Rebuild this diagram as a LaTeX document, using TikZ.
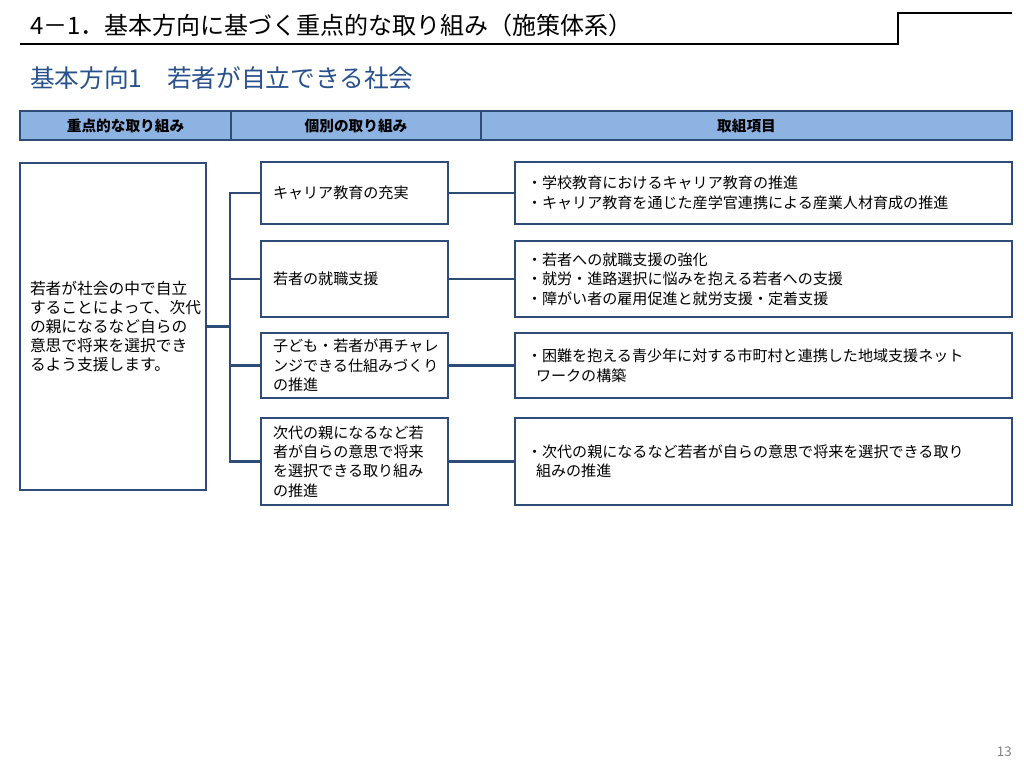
\documentclass[tikz,border=0pt]{standalone}
\usepackage{fontspec}
\setmainfont{Noto Sans CJK JP}
\usetikzlibrary{positioning}
\definecolor{myline}{RGB}{47,75,120}
\definecolor{myhead}{RGB}{141,179,226}
\definecolor{mytitle}{RGB}{40,80,140}

\begin{document}
\begin{tikzpicture}[x=0.75pt, y=-0.75pt,
    box/.style={draw=myline, line width=2pt, outer sep=0pt, fill=white, align=left,
        inner xsep=9pt, font=\fontsize{11.3pt}{14.6pt}\selectfont},
    midbox/.style={box, text width=122.25pt},
    itembox/.style={box, text width=354.75pt},
    headcell/.style={draw=myline, line width=0.8pt, outer sep=0pt, fill=myhead, minimum height=21.75pt,
        inner sep=0pt, font=\fontsize{11pt}{12pt}\selectfont\bfseries},
    link/.style={draw=myline, line width=2pt}]

    \useasboundingbox (0,0) rectangle (1024,768);

    % Title
    \node[anchor=west, inner sep=0pt, font=\fontsize{18pt}{20pt}\selectfont] (title) at (30,25)
        {4－1．基本方向に基づく重点的な取り組み（施策体系）};
    \draw[line width=1.5pt] (20,44) -- (898,44) -- (898,13) -- (1012,13);

    \node[anchor=west, inner sep=0pt, text=mytitle, font=\fontsize{18.5pt}{20pt}\selectfont] (subtitle) at (30,78)
        {基本方向1　若者が自立できる社会};

    % Header
    \node[headcell, minimum width=158.25pt] (h1) at (125.5,125.5) {重点的な取り組み};
    \node[headcell, minimum width=187.5pt, right=0pt of h1] (h2) {個別の取り組み};
    \node[headcell, minimum width=398.25pt, right=0pt of h2] (h3) {取組項目};
    \draw[myline, line width=1.8pt] (h1.south west) -- (h3.south east);

    % Left box
    \node[box, text width=124.5pt, inner xsep=7.5pt, minimum height=245.25pt,
        font=\fontsize{11.8pt}{14.3pt}\selectfont] (goal) at (113,326.5)
        {若者が社会の中で自立\\することによって、次代\\の親になるなど自らの\\意思で将来を選択でき\\るよう支援します。};

    % Middle boxes
    \node[midbox, minimum height=46.5pt] (m1) at (354.5,193) {キャリア教育の充実};
    \node[midbox, minimum height=57pt] (m2) at (354.5,279) {若者の就職支援};
    \node[midbox, minimum height=48.75pt] (m3) at (354.5,365.5)
        {子ども・若者が再チャレ\\ンジできる仕組みづくり\\の推進};
    \node[midbox, minimum height=65.25pt] (m4) at (354.5,461.5)
        {次代の親になるなど若\\者が自らの意思で将来\\を選択できる取り組み\\の推進};

    % Right boxes
    \node[itembox, minimum height=46.5pt, right=50.25pt of m1] (r1)
        {・学校教育におけるキャリア教育の推進\\・キャリア教育を通じた産学官連携による産業人材育成の推進};
    \node[itembox, minimum height=57pt, right=50.25pt of m2] (r2)
        {・若者への就職支援の強化\\・就労・進路選択に悩みを抱える若者への支援\\・障がい者の雇用促進と就労支援・定着支援};
    \node[itembox, minimum height=48.75pt, right=50.25pt of m3] (r3)
        {・困難を抱える青少年に対する市町村と連携した地域支援ネット\\\hspace*{0.6em}ワークの構築};
    \node[itembox, minimum height=65.25pt, right=50.25pt of m4] (r4)
        {・次代の親になるなど若者が自らの意思で将来を選択できる取り\\\hspace*{0.6em}組みの推進};

    % Connectors
    \coordinate (bus) at (230,326.5);
    \draw[link] (goal.east) -- (bus);
    \foreach \i in {1,...,4}
    {
        \draw[link] (bus) |- (m\i.west);
        \draw[link] (m\i.east) -- (r\i.west);
    }

    \node[anchor=east, inner sep=0pt, text=gray, font=\fontsize{10pt}{11pt}\selectfont] (page) at (1012,752) {13};

\end{tikzpicture}
\end{document}
